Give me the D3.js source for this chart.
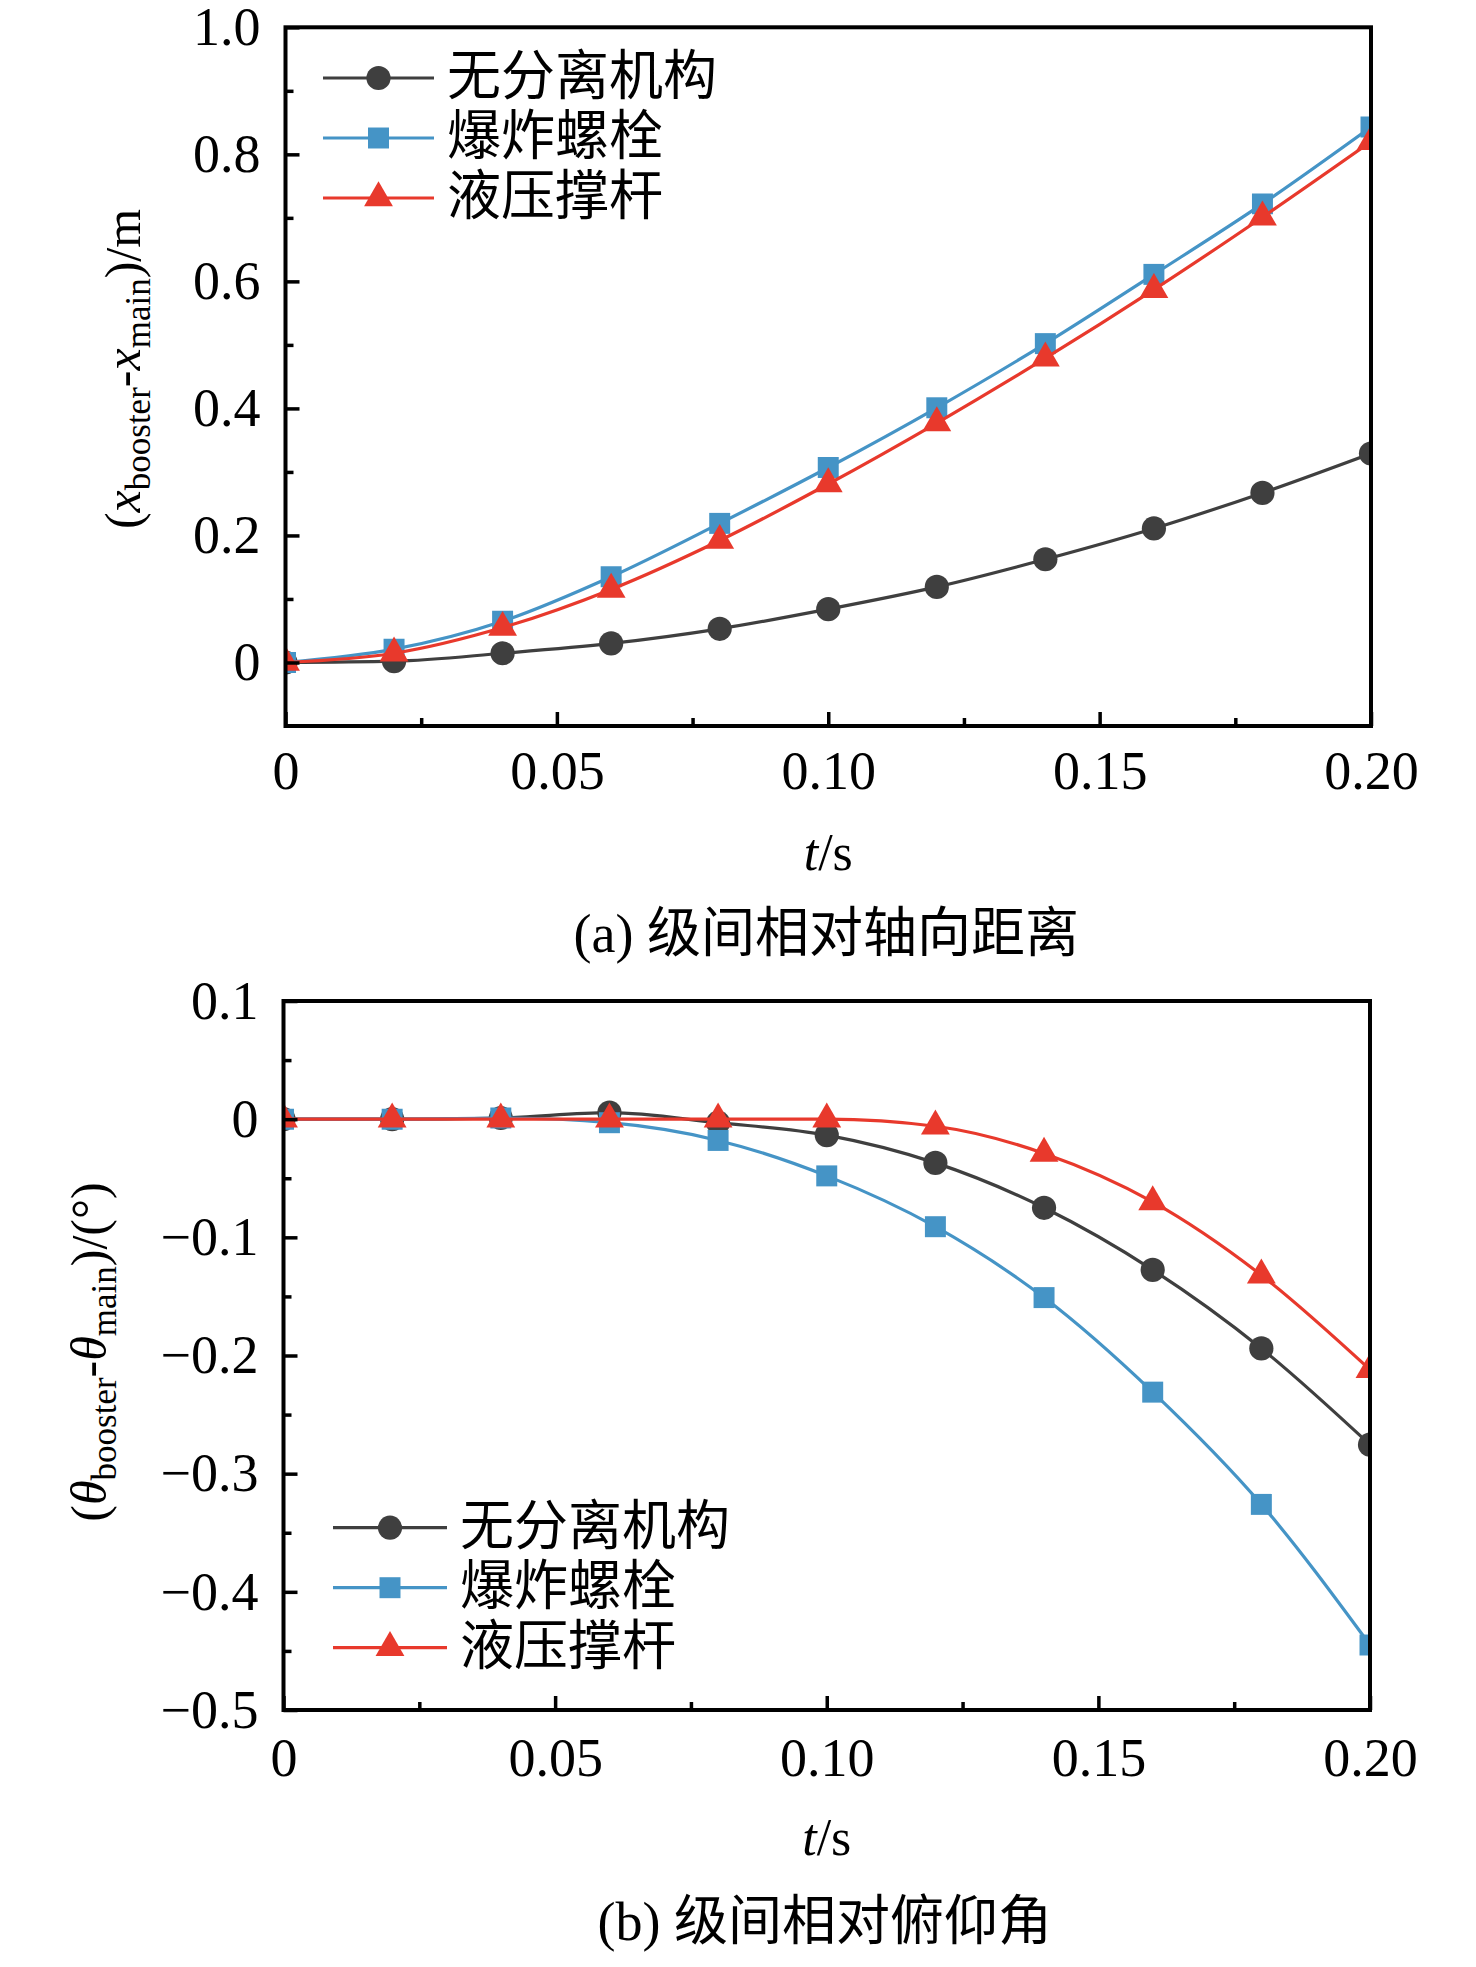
<!DOCTYPE html>
<html>
<head>
<meta charset="utf-8">
<script src="https://cdn.jsdelivr.net/npm/d3@7"></script>
<style>
  html, body { margin: 0; padding: 0; background: #fff; }
  svg { display: block; }
</style>
</head>
<body>
<svg id="chart" width="1476" height="1967"></svg>
<script>
// Values
const times = [0, 0.02, 0.04, 0.06, 0.08, 0.1, 0.12, 0.14, 0.16, 0.18, 0.2];
const seriesNames = ["无分离机构", "爆炸螺栓", "液压撑杆"];

// (a) relative axial distance, m
const distNone = [0, 0.002, 0.0145, 0.030, 0.053, 0.084, 0.119, 0.1625, 0.211, 0.267, 0.329];
const distBolt = [0, 0.021, 0.065, 0.135, 0.219, 0.307, 0.401, 0.502, 0.611, 0.722, 0.843];
const distStrut = [0, 0.0145, 0.055, 0.115, 0.192, 0.281, 0.377, 0.479, 0.587, 0.701, 0.820];

// (b) relative pitch angle, deg
const angNone = [0, 0, 0.001, 0.0055, -0.003, -0.0135, -0.037, -0.075, -0.1275, -0.194, -0.2755];
const angBolt = [0, 0, 0.001, -0.003, -0.018, -0.048, -0.091, -0.151, -0.231, -0.326, -0.445];
const angStrut = [0, 0, 0, 0, 0, 0, -0.006, -0.029, -0.070, -0.132, -0.212];

// ticks
const xTicks = [0, 0.05, 0.1, 0.15, 0.2];
const xMinor = [0.025, 0.075, 0.125, 0.175];
const distTicks = [0, 0.2, 0.4, 0.6, 0.8, 1.0];
const distMinor = [0.1, 0.3, 0.5, 0.7, 0.9];
const angTicks = [-0.5, -0.4, -0.3, -0.2, -0.1, 0, 0.1];
const angMinor = [-0.45, -0.35, -0.25, -0.15, -0.05, 0.05];

const colors = ["#3f3f3f", "#4594c6", "#e8392c"];
const symbols = [d3.symbolCircle, d3.symbolSquare, d3.symbolTriangle];
const symbolSizes = [460, 440, 360];

const serif = "'Liberation Serif', 'Times New Roman', serif";
const cjk = "'Noto Sans CJK SC', sans-serif";

const svg = d3.select("#chart");

function drawPanel(opt) {
	const g = svg.append("g");
	const x = d3.scaleLinear().domain([0, 0.2]).range([opt.left, opt.right]);
	const y = d3.scaleLinear().domain(opt.yDomain).range([opt.bottom, opt.top]);

	const clipId = "clip-" + opt.id;
	svg.append("clipPath").attr("id", clipId)
		.append("rect")
		.attr("x", opt.left).attr("y", opt.top)
		.attr("width", opt.right - opt.left).attr("height", opt.bottom - opt.top);

	const plot = g.append("g").attr("clip-path", `url(#${clipId})`);
	const line = d3.line()
		.x((d) => x(d[0]))
		.y((d) => y(d[1]))
		.curve(d3.curveMonotoneX);

	opt.series.forEach((vals, i) => {
		const pts = times.map((t, j) => [t, vals[j]]);
		plot.append("path")
			.attr("d", line(pts))
			.attr("fill", "none")
			.attr("stroke", colors[i])
			.attr("stroke-width", 3.2);
		plot.selectAll(".m" + i)
			.data(pts)
			.join("path")
			.attr("class", "m" + i)
			.attr("transform", (d) => `translate(${x(d[0])},${y(d[1])})`)
			.attr("d", d3.symbol(symbols[i], symbolSizes[i]))
			.attr("fill", colors[i]);
	});

	// axes with inward ticks
	const xAxis = g.append("g")
		.attr("transform", `translate(0,${opt.bottom})`)
		.call(d3.axisBottom(x).tickValues(xTicks).tickSizeInner(-14).tickSizeOuter(0)
			.tickPadding(opt.xPad)
			.tickFormat((d) => (d === 0 ? "0" : d3.format(".2f")(d))));
	g.append("g")
		.attr("transform", `translate(0,${opt.bottom})`)
		.call(d3.axisBottom(x).tickValues(xMinor).tickSizeInner(-8).tickSizeOuter(0).tickFormat(""));

	const yAxis = g.append("g")
		.attr("transform", `translate(${opt.left},0)`)
		.call(d3.axisLeft(y).tickValues(opt.yTicks).tickSizeInner(-14).tickSizeOuter(0)
			.tickPadding(25)
			.tickFormat((d) => (Math.abs(d) < 1e-9 ? "0" : d3.format(".1f")(d))));
	g.append("g")
		.attr("transform", `translate(${opt.left},0)`)
		.call(d3.axisLeft(y).tickValues(opt.yMinor).tickSizeInner(-8).tickSizeOuter(0).tickFormat(""));

	g.selectAll(".domain").remove();
	g.selectAll(".tick line").attr("stroke", "#000").attr("stroke-width", 3.5);
	g.selectAll(".tick text")
		.attr("font-family", serif)
		.attr("font-size", 54)
		.attr("fill", "#000");

	g.append("rect")
		.attr("x", opt.left).attr("y", opt.top)
		.attr("width", opt.right - opt.left).attr("height", opt.bottom - opt.top)
		.attr("fill", "none").attr("stroke", "#000").attr("stroke-width", 4);

	// legend
	const lg = g.append("g");
	seriesNames.forEach((name, i) => {
		const ly = opt.legend.y + i * 60;
		lg.append("line")
			.attr("x1", opt.legend.x1).attr("x2", opt.legend.x2)
			.attr("y1", ly).attr("y2", ly)
			.attr("stroke", colors[i]).attr("stroke-width", 3.2);
		lg.append("path")
			.attr("transform", `translate(${(opt.legend.x1 + opt.legend.x2) / 2},${ly})`)
			.attr("d", d3.symbol(symbols[i], symbolSizes[i]))
			.attr("fill", colors[i]);
		lg.append("text")
			.attr("x", opt.legend.x2 + 13)
			.attr("y", ly + 17)
			.attr("font-family", cjk)
			.attr("font-size", 54)
			.attr("fill", "#000")
			.text(name);
	});

	// x title
	const xt = g.append("text")
		.attr("x", (opt.left + opt.right) / 2)
		.attr("y", opt.xTitleY)
		.attr("text-anchor", "middle")
		.attr("font-family", serif)
		.attr("font-size", 52);
	xt.append("tspan").attr("font-style", "italic").text("t");
	xt.append("tspan").text("/s");

	// y title
	const yt = g.append("text")
		.attr("transform", `translate(${opt.yTitle.x},${opt.yTitle.y}) rotate(-90)`)
		.attr("text-anchor", "middle")
		.attr("font-family", serif)
		.attr("font-size", 50);
	opt.yTitle.parts.forEach((p) => {
		const ts = yt.append("tspan").text(p.t);
		if (p.it) ts.attr("font-style", "italic");
		if (p.sub) ts.attr("font-size", 35).attr("dy", 10);
		if (p.up) ts.attr("dy", -10);
	});

	// caption
	g.append("text")
		.attr("x", (opt.left + opt.right) / 2 - 2)
		.attr("y", opt.captionY)
		.attr("text-anchor", "middle")
		.attr("font-family", `${serif.split(",")[0]}, ${cjk}`)
		.attr("font-size", 54)
		.text(opt.caption);
}

drawPanel({
	id: "a",
	left: 285.5, right: 1371, top: 27.3, bottom: 726,
	yDomain: [-0.1, 1.0],
	yTicks: distTicks, yMinor: distMinor,
	series: [distNone, distBolt, distStrut],
	xPad: 25,
	legend: { x1: 323, x2: 434, y: 78 },
	xTitleY: 870,
	yTitle: {
		x: 140, y: 369,
		parts: [
			{ t: "(" }, { t: "x", it: true }, { t: "booster", sub: true },
			{ t: "-", up: true }, { t: "x", it: true }, { t: "main", sub: true },
			{ t: ")/m", up: true }
		]
	},
	captionY: 952,
	caption: "(a) 级间相对轴向距离"
});

drawPanel({
	id: "b",
	left: 283.5, right: 1370, top: 1001, bottom: 1710,
	yDomain: [-0.5, 0.1],
	yTicks: angTicks, yMinor: angMinor,
	series: [angNone, angBolt, angStrut],
	xPad: 28,
	legend: { x1: 333, x2: 447, y: 1527.7 },
	xTitleY: 1855,
	yTitle: {
		x: 106, y: 1352,
		parts: [
			{ t: "(" }, { t: "θ", it: true }, { t: "booster", sub: true },
			{ t: "-", up: true }, { t: "θ", it: true }, { t: "main", sub: true },
			{ t: ")/(°)", up: true }
		]
	},
	captionY: 1940,
	caption: "(b) 级间相对俯仰角"
});
</script>
</body>
</html>
